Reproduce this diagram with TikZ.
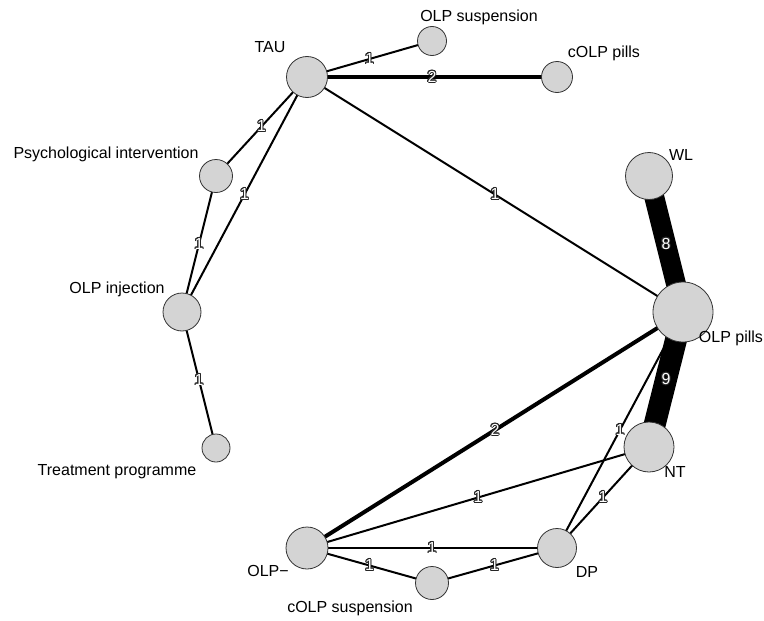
\documentclass[tikz,border=0pt]{standalone}
\usepackage{fontspec}
\setmainfont{Liberation Sans}
\usepackage[copies]{contour}
\contourlength{0.9pt}
\usetikzlibrary{backgrounds}
\tikzstyle{every path}=[line width=2pt]
\tikzstyle{trt}=[circle, draw=black!80, fill=black!17, line width=0.8pt, inner sep=0pt]
\tikzstyle{lbl}=[font=\fontsize{16}{18}\selectfont, inner sep=0pt]
\tikzstyle{elab}=[midway, text=white, inner sep=0pt, font=\fontsize{16}{16}\selectfont]
\newcommand{\nw}[1]{\contour{black!85}{#1}}

\begin{document}
\begin{tikzpicture}[x=1pt, y=-1pt]
            \useasboundingbox (0,0) rectangle (764,621);

            % treatments
            \node[trt, minimum size=41pt] (tau) at (307, 77) {};
            \node[trt, minimum size=29pt] (olpsusp) at (432, 41) {};
            \node[trt, minimum size=31pt] (colppills) at (557, 77) {};
            \node[trt, minimum size=33pt] (psych) at (216, 176) {};
            \node[trt, minimum size=38pt] (olpinj) at (182, 312) {};
            \node[trt, minimum size=28pt] (treat) at (216, 448) {};
            \node[trt, minimum size=47pt] (wl) at (649, 176) {};
            \node[trt, minimum size=60pt] (olppills) at (683, 312) {};
            \node[trt, minimum size=50pt] (nt) at (649, 447) {};
            \node[trt, minimum size=39pt] (dp) at (557, 548) {};
            \node[trt, minimum size=42pt] (olpminus) at (307, 548) {};
            \node[trt, minimum size=33pt] (colpsusp) at (432, 583) {};

            % names
            \node[lbl] (tau-l) at (270, 47) {TAU};
            \node[lbl] (olpsusp-l) at (479, 17) {OLP suspension};
            \node[lbl] (colppills-l) at (604, 53) {cOLP pills};
            \node[lbl] (psych-l) at (106, 154) {Psychological intervention};
            \node[lbl] (olpinj-l) at (117, 289) {OLP injection};
            \node[lbl] (treat-l) at (117, 472) {Treatment programme};
            \node[lbl] (wl-l) at (681, 155) {WL};
            \node[lbl] (olppills-l) at (731, 338) {OLP pills};
            \node[lbl] (nt-l) at (675, 472) {NT};
            \node[lbl] (dp-l) at (587, 572) {DP};
            \node[lbl] (olpminus-l) at (268, 571) {OLP\textminus};
            \node[lbl] (colpsusp-l) at (350, 608) {cOLP suspension};

            % comparisons
            \begin{scope}[on background layer]
                \draw (tau.center) -- (olpsusp.center) node[elab]{\nw{1}};
                \draw[line width=4pt] (tau.center) -- (colppills.center) node[elab]{\nw{2}};
                \draw (tau.center) -- (psych.center) node[elab]{\nw{1}};
                \draw (tau.center) -- (olpinj.center) node[elab]{\nw{1}};
                \draw (tau.center) -- (olppills.center) node[elab]{\nw{1}};
                \draw (psych.center) -- (olpinj.center) node[elab]{\nw{1}};
                \draw (olpinj.center) -- (treat.center) node[elab]{\nw{1}};
                \draw[line width=20pt] (wl.center) -- (olppills.center) node[elab]{\nw{8}};
                \draw[line width=22pt] (olppills.center) -- (nt.center) node[elab]{\nw{9}};
                \draw[line width=4pt] (olppills.center) -- (olpminus.center) node[elab]{\nw{2}};
                \draw (olppills.center) -- (dp.center) node[elab]{\nw{1}};
                \draw (nt.center) -- (olpminus.center) node[elab]{\nw{1}};
                \draw (nt.center) -- (dp.center) node[elab]{\nw{1}};
                \draw (olpminus.center) -- (dp.center) node[elab]{\nw{1}};
                \draw (olpminus.center) -- (colpsusp.center) node[elab]{\nw{1}};
                \draw (colpsusp.center) -- (dp.center) node[elab]{\nw{1}};
            \end{scope}
        \end{tikzpicture}
\end{document}
